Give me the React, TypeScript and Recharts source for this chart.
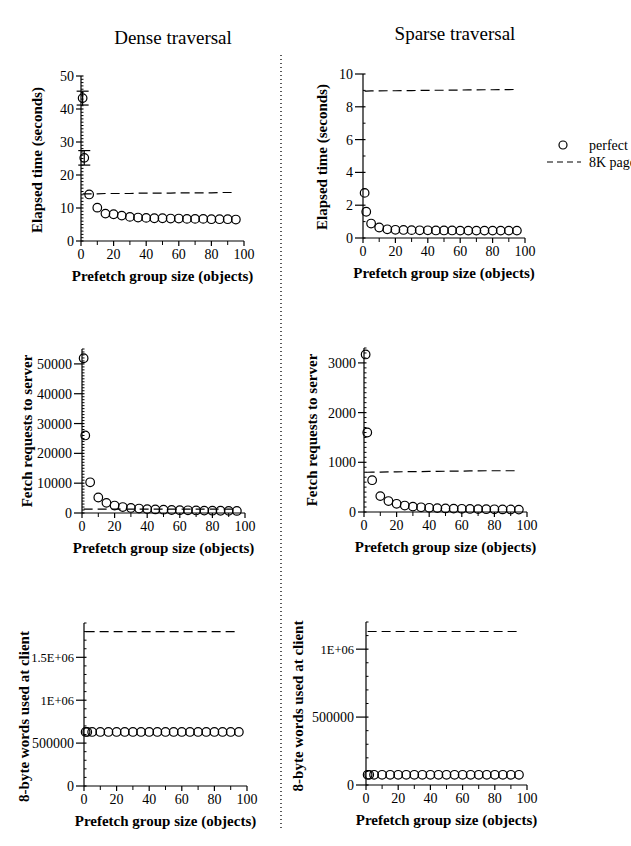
import { ComposedChart, ErrorBar, Line, Scatter, XAxis, YAxis } from 'recharts'

// prefetch group size (objects)
const groupSizes = [1, 2, 5, 10, 15, 20, 25, 30, 35, 40, 45, 50, 55, 60, 65, 70, 75, 80, 85, 90, 95]

// elapsed time (seconds)
const denseTimePerfect = [43.3, 25.2, 14.1, 10.1, 8.3, 8.1, 7.7, 7.3, 7.1, 7.0, 6.9, 6.9, 6.8, 6.8, 6.7, 6.7, 6.7, 6.6, 6.6, 6.6, 6.5]
const denseTimeErr = [2.1, 2.2, null, null, null, null, null, null, null, null, null, null, null, null, null, null, null, null, null, null, null]
const denseTimePage = [14.3, 14.3, 14.3, 14.3, 14.4, 14.4, 14.4, 14.4, 14.5, 14.5, 14.5, 14.5, 14.5, 14.6, 14.6, 14.6, 14.6, 14.6, 14.7, 14.7, 14.7]
const sparseTimePerfect = [2.75, 1.6, 0.88, 0.64, 0.53, 0.5, 0.49, 0.48, 0.47, 0.47, 0.46, 0.46, 0.46, 0.45, 0.45, 0.45, 0.45, 0.45, 0.45, 0.45, 0.45]
const sparseTimePage = [8.96, 8.96, 8.97, 8.97, 8.98, 8.98, 8.99, 8.99, 9.0, 9.0, 9.01, 9.01, 9.02, 9.02, 9.03, 9.03, 9.04, 9.04, 9.05, 9.05, 9.06]

// fetch requests to server
const denseFetchPerfect = [51900, 26000, 10300, 5200, 3400, 2500, 2000, 1700, 1500, 1300, 1200, 1100, 1000, 950, 900, 850, 800, 780, 750, 720, 700]
const denseFetchPage = [1300, 1300, 1300, 1300, 1300, 1300, 1300, 1300, 1300, 1300, 1300, 1300, 1300, 1300, 1300, 1300, 1300, 1300, 1300, 1300, 1300]
const sparseFetchPerfect = [3170, 1600, 640, 320, 220, 165, 130, 108, 95, 85, 78, 72, 68, 64, 61, 58, 56, 54, 52, 50, 48]
const sparseFetchPage = [800, 800, 802, 804, 806, 808, 810, 812, 814, 816, 818, 820, 822, 824, 826, 828, 830, 830, 830, 830, 830]

// 8-byte words used at client
const denseWordsPerfect = [630000, 630000, 630000, 630000, 630000, 630000, 630000, 630000, 630000, 630000, 630000, 630000, 630000, 630000, 630000, 630000, 630000, 630000, 630000, 630000, 630000]
const denseWordsPage = [1800000, 1800000, 1800000, 1800000, 1800000, 1800000, 1800000, 1800000, 1800000, 1800000, 1800000, 1800000, 1800000, 1800000, 1800000, 1800000, 1800000, 1800000, 1800000, 1800000, 1800000]
const sparseWordsPerfect = [75000, 75000, 75000, 75000, 75000, 75000, 75000, 75000, 75000, 75000, 75000, 75000, 75000, 75000, 75000, 75000, 75000, 75000, 75000, 75000, 75000]
const sparseWordsPage = [1130000, 1130000, 1130000, 1130000, 1130000, 1130000, 1130000, 1130000, 1130000, 1130000, 1130000, 1130000, 1130000, 1130000, 1130000, 1130000, 1130000, 1130000, 1130000, 1130000, 1130000]

// ticks
const xMajorTicks = [0, 20, 40, 60, 80, 100]
const xMinorTicks = [10, 30, 50, 70, 90]
const timeDenseTicks = [0, 10, 20, 30, 40, 50]
const timeSparseTicks = [0, 2, 4, 6, 8, 10]
const fetchDenseTicks = [0, 10000, 20000, 30000, 40000, 50000]
const fetchSparseTicks = [0, 1000, 2000, 3000]
const wordsDenseTicks = [0, 500000, 1000000, 1500000]
const wordsSparseTicks = [0, 500000, 1000000]

const SERIF = "'Liberation Serif', 'Times New Roman', 'DejaVu Serif', serif"
const YW = 80
const TM = 12
const RM = 16
const XH = 50

function steps(max: number, step: number) {
  const out: number[] = []
  for (let v = 0; v <= max + 1e-9; v += step) out.push(Math.round(v * 1000) / 1000)
  return out
}

function fmtY(v: number) {
  if (v >= 1000000) return `${v / 1000000}E+06`
  return String(v)
}

function HollowCircle(props: any) {
  const { cx, cy } = props
  if (cx == null || cy == null) return null
  return <circle cx={cx} cy={cy} r={4.3} fill="none" stroke="#000" strokeWidth={1.2} />
}

type PanelProps = {
  axisX: number
  top: number
  plotW: number
  plotH: number
  yMax: number
  yMajor: number[]
  yStep: number
  majorLen: number
  yLabel: string
  yLabelOffset: number
  yLabelShift: number
  perfect: number[]
  page: number[]
  err?: (number | null)[]
}

function Panel(p: PanelProps) {
  const rows = groupSizes.map((x, i) => ({
    x,
    perfect: p.perfect[i],
    page: p.page[i],
    err: p.err ? p.err[i] : null,
  }))
  const yTicks = steps(p.yMax, p.yStep)
  const xTicks = steps(100, 10)

  const YTick = ({ x, y, payload }: any) => {
    const major = p.yMajor.some((m) => Math.abs(m - payload.value) < 1e-6)
    if (!major) return <line x1={x} x2={x + 2.5} y1={y} y2={y} stroke="#000" strokeWidth={1} />
    const txt = fmtY(payload.value)
    return (
      <g>
        <line x1={x - p.majorLen} x2={x + 2.5} y1={y} y2={y} stroke="#000" strokeWidth={1.2} />
        <text
          x={x - p.majorLen - 2}
          y={y + 5}
          textAnchor="end"
          fontSize={txt.includes('E') ? 12.5 : 14}
          fontFamily={SERIF}
          fill="#000"
        >
          {txt}
        </text>
      </g>
    )
  }

  const XTick = ({ x, y, payload }: any) => {
    const major = xMajorTicks.includes(payload.value)
    const minor = xMinorTicks.includes(payload.value)
    if (minor) return <line x1={x} x2={x} y1={y} y2={y + 4} stroke="#000" strokeWidth={1} />
    if (!major) return null
    return (
      <g>
        <line x1={x} x2={x} y1={y} y2={y + 5} stroke="#000" strokeWidth={1.2} />
        <text x={x} y={y + 18} textAnchor="middle" fontSize={14} fontFamily={SERIF} fill="#000">
          {payload.value}
        </text>
      </g>
    )
  }

  const yLabelX = YW - p.yLabelOffset
  const yLabelY = TM + p.plotH / 2 + p.yLabelShift

  return (
    <div style={{ position: 'absolute', left: p.axisX - YW, top: p.top - TM }}>
      <ComposedChart
        width={YW + p.plotW + RM}
        height={TM + p.plotH + XH}
        data={rows}
        margin={{ top: TM, right: RM, bottom: 0, left: 0 }}
      >
        <XAxis
          type="number"
          dataKey="x"
          domain={[0, 100]}
          ticks={xTicks}
          interval={0}
          tickLine={false}
          tickSize={0}
          tickMargin={0}
          height={XH}
          axisLine={{ stroke: '#000', strokeWidth: 1.2 }}
          tick={XTick}
          label={() => (
            <text
              x={YW + p.plotW / 2}
              y={TM + p.plotH + 40}
              textAnchor="middle"
              fontSize={15}
              fontWeight="bold"
              fontFamily={SERIF}
              fill="#000"
            >
              Prefetch group size (objects)
            </text>
          )}
        />
        <YAxis
          type="number"
          domain={[0, p.yMax]}
          ticks={yTicks}
          interval={0}
          tickLine={false}
          tickSize={0}
          tickMargin={0}
          width={YW}
          axisLine={{ stroke: '#000', strokeWidth: 1.2 }}
          tick={YTick}
          label={() => (
            <text
              x={yLabelX}
              y={yLabelY}
              dy="0.35em"
              transform={`rotate(-90 ${yLabelX} ${yLabelY})`}
              textAnchor="middle"
              fontSize={15}
              fontWeight="bold"
              fontFamily={SERIF}
              fill="#000"
            >
              {p.yLabel}
            </text>
          )}
        />
        <Line
          dataKey="page"
          stroke="#000"
          strokeWidth={1.2}
          strokeDasharray="9 5"
          dot={false}
          activeDot={false}
          isAnimationActive={false}
        />
        <Scatter data={rows} dataKey="perfect" shape={HollowCircle} isAnimationActive={false}>
          {p.err && <ErrorBar dataKey="err" direction="y" width={6} stroke="#000" strokeWidth={1.2} />}
        </Scatter>
      </ComposedChart>
    </div>
  )
}

export default function App() {
  return (
    <div
      style={{
        position: 'absolute',
        left: 0,
        top: 0,
        width: 631,
        height: 846,
        overflow: 'hidden',
        background: '#fff',
        fontFamily: SERIF,
      }}
    >
      <svg width={631} height={846} style={{ position: 'absolute', left: 0, top: 0 }}>
        <text x={173} y={44} textAnchor="middle" fontSize={19} fontFamily={SERIF} fill="#000">
          Dense traversal
        </text>
        <text x={455} y={40} textAnchor="middle" fontSize={19} fontFamily={SERIF} fill="#000">
          Sparse traversal
        </text>
        <line x1={281} x2={281} y1={55} y2={830} stroke="#000" strokeWidth={1.3} strokeDasharray="1 3" />
        <circle cx={563} cy={145} r={4} fill="none" stroke="#000" strokeWidth={1.2} />
        <text x={589} y={150} fontSize={14} fontFamily={SERIF} fill="#000">
          perfect
        </text>
        <line x1={547} x2={581} y1={162} y2={162} stroke="#000" strokeWidth={1.2} strokeDasharray="6 4" />
        <text x={589} y={167} fontSize={14} fontFamily={SERIF} fill="#000">
          8K pages
        </text>
      </svg>

      <Panel
        axisX={81} top={76} plotW={163} plotH={165}
        yMax={50} yMajor={timeDenseTicks} yStep={1} majorLen={5}
        yLabel="Elapsed time (seconds)" yLabelOffset={44} yLabelShift={1.5}
        perfect={denseTimePerfect} page={denseTimePage} err={denseTimeErr}
      />
      <Panel
        axisX={363} top={74} plotW={162} plotH={164}
        yMax={10} yMajor={timeSparseTicks} yStep={1} majorLen={8}
        yLabel="Elapsed time (seconds)" yLabelOffset={41} yLabelShift={1}
        perfect={sparseTimePerfect} page={sparseTimePage}
      />
      <Panel
        axisX={82} top={349} plotW={163} plotH={164}
        yMax={55000} yMajor={fetchDenseTicks} yStep={1000} majorLen={8}
        yLabel="Fetch requests to server" yLabelOffset={55} yLabelShift={0}
        perfect={denseFetchPerfect} page={denseFetchPage}
      />
      <Panel
        axisX={364} top={348} plotW={163} plotH={164}
        yMax={3300} yMajor={fetchSparseTicks} yStep={100} majorLen={6}
        yLabel="Fetch requests to server" yLabelOffset={52} yLabelShift={0}
        perfect={sparseFetchPerfect} page={sparseFetchPage}
      />
      <Panel
        axisX={84} top={623} plotW={163} plotH={163}
        yMax={1900000} yMajor={wordsDenseTicks} yStep={100000} majorLen={8}
        yLabel="8-byte words used at client" yLabelOffset={60} yLabelShift={12}
        perfect={denseWordsPerfect} page={denseWordsPage}
      />
      <Panel
        axisX={366} top={622} plotW={161} plotH={163}
        yMax={1200000} yMajor={wordsSparseTicks} yStep={100000} majorLen={10}
        yLabel="8-byte words used at client" yLabelOffset={68} yLabelShift={2.5}
        perfect={sparseWordsPerfect} page={sparseWordsPage}
      />
    </div>
  )
}
